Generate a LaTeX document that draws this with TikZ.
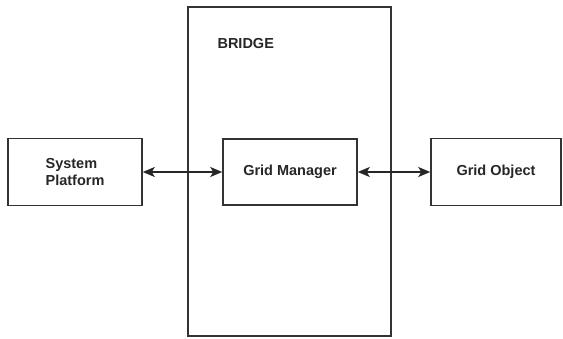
\documentclass[tikz,border=0pt]{standalone}
\usepackage{fontspec}
\setmainfont{Liberation Sans}
\usetikzlibrary{arrows.meta}
\begin{document}
\begin{tikzpicture}[x=1pt,y=1pt,
  blk/.style={draw=black!80, line width=1.5pt, minimum width=#1, inner sep=0pt},
  lbl/.style={font=\bfseries\fontsize{14.5}{17.5}\selectfont, text=black!85},
  conn/.style={line width=1.6pt, draw=black!85, {Stealth[length=12pt,width=10pt,inset=3pt]}-{Stealth[length=12pt,width=10pt,inset=3pt]}}]
\useasboundingbox (0,0) rectangle (563,338);
\node[blk=203pt, minimum height=329pt] (bridge) at (289.5,166.5) {};
\node[lbl, anchor=west] (bl) at (214,294) {BRIDGE};
\node[blk=134pt, minimum height=67pt, lbl, align=left] (sp) at (75,166) {System\\Platform};
\node[blk=134pt, minimum height=66pt, lbl] (gm) at (290,166) {Grid Manager};
\node[blk=130pt, minimum height=67pt, lbl] (go) at (496,166) {Grid Object};
\draw[conn] (sp.east) -- (gm.west);
\draw[conn] (gm.east) -- (go.west);
\end{tikzpicture}
\end{document}
